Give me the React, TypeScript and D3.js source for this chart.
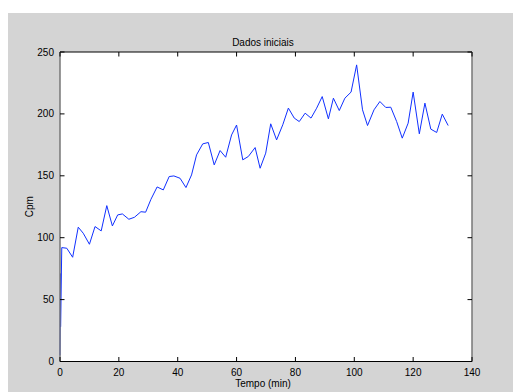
import React from "react";
import * as d3 from "d3";

// tempo (min) e contagens
const tempo = [
  0, 0.2, 0.2, 0.6, 2.3, 4.3, 6.2, 7.9, 10, 11.9, 14, 15.9, 17.8, 19.6, 21.2,
  23.4, 25.3, 27.5, 29.1, 30.9, 33, 35.1, 37.1, 38.7, 40.8, 42.8, 44.7, 46.4,
  48.5, 50.4, 52.4, 54.4, 56.3, 58.3, 60, 62.1, 64, 66.3, 68, 69.9, 71.6, 73.6,
  75.7, 77.6, 79.6, 81.3, 83.3, 85.3, 87.2, 89.1, 91.2, 92.9, 94.9, 96.8, 98.9,
  100.8, 102.8, 104.5, 106.7, 108.7, 110.7, 112.4, 114.4, 116.3, 118.3, 120,
  122.1, 124, 126, 128, 129.9, 131.9,
];
const cpm = [
  5, 71, 28, 92, 91.5, 84.2, 108.5, 103.6, 94.7, 109, 105.5, 125.9, 109.5,
  118.4, 119.2, 114.9, 116.5, 121, 120.6, 131, 141, 138.6, 149.4, 149.9, 148,
  140.5, 150.7, 166.9, 175.8, 176.9, 158.8, 170.4, 165, 183, 191, 162.9, 165.6,
  172.8, 156.1, 168.3, 192, 179, 191.2, 204.7, 196.6, 193.8, 200.6, 196.6,
  204.6, 214, 196, 212.7, 202.7, 212.7, 217.6, 239.6, 203.3, 190.6, 203.3, 210,
  205.2, 205.4, 193.8, 180.4, 192.5, 217.6, 183.9, 208.7, 187.7, 185, 199.8,
  190.6,
];
const xTicks = [0, 20, 40, 60, 80, 100, 120, 140];
const yTicks = [0, 50, 100, 150, 200, 250];

const W = 513;
const H = 392;
const left = 60;
const right = 472;
const top = 52;
const bottom = 361.5;
const font = "'Liberation Sans', Arial, sans-serif";

export default function App() {
  const x = d3.scaleLinear().domain([0, 140]).range([left, right]);
  const y = d3.scaleLinear().domain([0, 250]).range([bottom, top]);

  const pts = tempo.map((t, i) => [t, cpm[i]] as [number, number]);
  const line = d3
    .line<[number, number]>()
    .x((d) => x(d[0]))
    .y((d) => y(d[1]));

  const tk = 4.5;

  return (
    <svg
      width={W}
      height={H}
      style={{ position: "absolute", left: 0, top: 0 }}
      fontFamily={font}
    >
      <rect x={8} y={13} width={W - 8} height={H - 13} fill="#d4d4d4" />
      <rect x={left} y={top} width={right - left} height={bottom - top} fill="#fff" />

      <path d={line(pts) || ""} fill="none" stroke="#1030ff" strokeWidth={1} />

      {/* box */}
      <line x1={left} x2={right} y1={top} y2={top} stroke="#000" />
      <line x1={left} x2={right} y1={bottom} y2={bottom} stroke="#000" />
      <line x1={left} x2={left} y1={top} y2={bottom} stroke="#777" strokeWidth={1.5} />
      <line x1={right} x2={right} y1={top} y2={bottom} stroke="#777" strokeWidth={1.5} />

      {xTicks.map((t) => (
        <g key={"x" + t}>
          <line x1={x(t)} x2={x(t)} y1={bottom} y2={bottom - tk} stroke="#000" />
          <line x1={x(t)} x2={x(t)} y1={top} y2={top + tk} stroke="#000" />
          <text x={x(t)} y={376} fontSize={10} textAnchor="middle" fill="#000">
            {t}
          </text>
        </g>
      ))}
      {yTicks.map((v) => (
        <g key={"y" + v}>
          <line x1={left} x2={left + tk} y1={y(v)} y2={y(v)} stroke="#000" />
          <line x1={right} x2={right - tk} y1={y(v)} y2={y(v)} stroke="#000" />
          <text x={54} y={y(v) + 3.5} fontSize={10} textAnchor="end" fill="#000">
            {v}
          </text>
        </g>
      ))}

      <text x={263} y={46} fontSize={10} textAnchor="middle" fill="#000">
        Dados iniciais
      </text>
      <text x={263} y={387} fontSize={10} textAnchor="middle" fill="#000">
        Tempo (min)
      </text>
      <text
        transform={`translate(33,${(top + bottom) / 2}) rotate(-90)`}
        fontSize={10}
        textAnchor="middle"
        fill="#000"
      >
        Cpm
      </text>
    </svg>
  );
}
